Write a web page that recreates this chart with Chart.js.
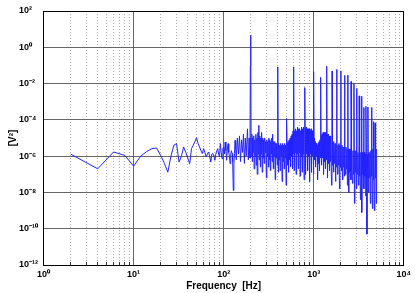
<!DOCTYPE html>
<html><head><meta charset="utf-8">
<script src="https://cdn.jsdelivr.net/npm/chart.js@4"></script>
<style>html,body{margin:0;padding:0;background:#fff}canvas{display:block}</style>
</head><body>
<canvas id="c" width="415" height="293"></canvas>
<script>
const freqHz = [
2,4,6,8,10,12,14,16,18,20,22,24,26,28,30,32,34,36,38,40,
42,44,46,48,50,52,54,56,58,60,62,64,66,68,70,72,74,76,78,80,
82,84,86,88,90,92,94,96,98,100,102,104,106,108,110,112,114,116,118,120,
122,124,126,128,130,132,134,
136,138,142,146,150,154,158,162,166,170,174,178,184,188,192,196,198,200,202,
206,208,210,214,216,218,222,224,228,230,234,236,240,242,246,248,252,256,258,262,264,268,272,276,278,282,286,290,294,298,302,306,310,314,318,322,326,330,334,338,342,346,350,356,360,364,370,374,378,384,388,394,398,400,
404,408,414,420,424,430,436,440,446,452,458,464,470,476,482,488,494,500,506,514,520,526,534,540,548,554,562,568,576,582,
590,598,600,606,614,622,630,638,646,654,662,672,680,688,698,
706,716,724,734,744,752,762,772,782,792,796,800,804,812,824,
834,844,856,866,878,888,900,912,924,934,946,958,972,984,996,1000,
1010,1022,1036,1048,1062,1076,1090,1104,1118,1132,1146,1160,1176,1190,1200,
1206,1222,1238,1254,1270,1286,1302,1318,1336,1352,1370,1388,1400,
1406,1424,1442,1460,1480,1498,1518,1536,1556,1576,1596,1600,
1616,1638,1658,1680,1702,1724,1746,1768,1790,1800,
1814,1836,1860,1884,1908,1932,1958,1982,2000,
2008,2034,2060,2086,2114,2140,2168,2196,2200,
2224,2252,2282,2310,2340,2370,2390,2400,2410,2430,2462,2494,2526,2558,2590,2600,
2610,2624,2658,2692,2728,2762,2796,2800,2834,2870,2906,2944,2982,3000,
3020,3058,3098,3138,3178,3200,3218,3260,3302,3342,3386,3400,3430,3474,3518,
3564,3600,3610,3656,3702,3750,3798,3800,3846,3896,3946,3996,4000,4048,
4100,4152,4204,4258,4314,4370,4400,4426,4482,4540,4598,4600,4656,4716,4778,4800,4840,4900,4964,5000
];
const psdV2 = [
1.3e-6,2.0e-7,1.7e-6,1.1e-6,2.8e-7,1.0e-6,1.8e-6,2.6e-6,2.8e-6,1.1e-6,4.0e-7,1.3e-7,1.0e-6,4.0e-6,4.9e-6,4.7e-7,1.0e-6,3.2e-6,1.6e-6,7.9e-7,
3.8e-7,2.6e-6,4.0e-6,6.3e-6,1.05e-5,5.0e-6,3.2e-6,2.0e-6,1.4e-6,2.6e-6,1.6e-6,8.9e-7,1.3e-6,1.7e-6,1.0e-6,4.7e-7,1.3e-6,1.4e-6,1.0e-6,5.9e-7,
1.3e-6,2.0e-6,2.6e-6,1.3e-6,8.9e-7,4.9e-6,1.6e-6,7.2e-7,2.5e-6,3.2e-6,1.3e-6,6.0e-6,2.0e-6,5.9e-7,2.5e-6,4.9e-6,1.6e-6,1.0e-6,3.8e-7,1.3e-6,
2.0e-6,1.4e-6,5.0e-7,1.3e-8,4.0e-7,1.4e-6,7.4e-6,
2.5e-6,6.3e-7,1.0e-5,1.3e-6,1.3e-5,5.0e-7,7.9e-6,1.6e-6,1.6e-5,4.0e-7,1.0e-5,1.0e-6,3.2e-5,6.3e-7,1.0e-5,7.9e-7,1.0e-1,4.7,1.0e-6,
1.6e-5,5.0e-7,1.0e-5,1.6e-6,1.3e-5,2.0e-7,7.9e-6,1.0e-6,1.6e-5,3.2e-7,1.0e-5,1.0e-7,2.0e-5,1.3e-6,5.0e-5,6.3e-7,1.3e-5,2.5e-7,1.0e-5,1.3e-6,2.0e-5,1.3e-7,1.0e-5,7.9e-7,7.9e-6,4.0e-7,1.0e-5,1.6e-6,6.3e-6,6.3e-8,7.9e-6,1.0e-6,6.3e-6,2.5e-7,1.0e-5,6.3e-7,7.9e-6,1.6e-7,6.3e-6,1.3e-6,1.0e-5,5.0e-7,1.6e-5,2.0e-7,6.3e-6,1.0e-6,6.3e-6,5.0e-8,5.0e-6,7.9e-7,5.0e-6,3.2e-7,5.0e-6,8.3e-2,
1.3e-7,5.0e-6,6.3e-7,4.0e-6,1.6e-7,5.0e-6,1.0e-6,4.0e-6,4.0e-8,5.0e-6,5.0e-7,4.0e-6,2.0e-7,5.0e-6,7.9e-7,4.0e-6,2.5e-8,1.2e-4,5.0e-6,3.2e-7,6.3e-6,1.3e-7,7.9e-6,6.3e-7,1.0e-5,2.5e-7,1.3e-5,1.0e-6,1.6e-5,2.0e-7,
2.5e-5,1.3e-6,8.3e-2,1.6e-7,2.5e-5,1.6e-6,3.2e-5,1.0e-7,2.5e-5,1.3e-6,4.0e-5,2.0e-7,3.2e-5,1.6e-6,3.2e-5,
7.9e-8,2.5e-5,1.0e-6,4.0e-5,1.3e-7,3.2e-5,1.3e-6,4.0e-5,5.0e-8,3.2e-5,1.6e-6,6.0e-3,3.2e-5,1.0e-7,4.0e-5,
1.3e-6,3.2e-5,1.6e-7,3.2e-5,1.0e-6,3.2e-5,4.0e-8,2.5e-5,1.3e-6,3.2e-5,1.3e-7,2.5e-5,1.0e-6,2.5e-5,1.0e-7,4.5e-2,
1.0e-5,6.3e-7,6.3e-6,2.5e-7,5.0e-6,1.0e-6,4.0e-6,5.0e-8,5.0e-6,4.0e-7,6.3e-6,1.6e-7,7.9e-6,7.9e-7,2.2e-2,
1.3e-5,3.2e-7,1.6e-5,7.9e-7,2.0e-5,1.0e-7,2.0e-5,5.0e-7,2.0e-5,2.0e-7,2.0e-5,6.3e-7,9.1e-2,
1.6e-5,6.3e-8,1.6e-5,4.0e-7,1.3e-5,1.6e-7,1.3e-5,5.0e-7,1.0e-5,2.5e-8,7.9e-6,4.9e-2,
3.2e-7,6.3e-6,1.3e-7,5.0e-6,4.0e-7,5.0e-6,4.0e-8,5.0e-6,2.5e-7,6.0e-2,
5.0e-6,1.0e-7,4.0e-6,3.2e-7,5.0e-6,1.6e-8,4.0e-6,2.5e-7,5.0e-2,
4.0e-6,1.6e-7,4.0e-6,5.0e-8,3.2e-6,2.5e-7,3.2e-6,7.9e-8,2.8e-2,
3.2e-6,1.0e-7,3.2e-6,2.0e-7,2.5e-6,2.5e-8,2.5e-6,2.9e-2,1.6e-7,2.5e-6,1.0e-8,2.5e-6,1.3e-7,2.5e-6,5.0e-8,1.3e-2,
2.5e-6,1.6e-7,2.0e-6,3.2e-8,2.0e-6,1.0e-7,2.0e-6,1.0e-2,2.5e-9,2.0e-6,1.3e-7,2.0e-6,1.6e-8,5.4e-3,
1.6e-6,1.0e-7,1.6e-6,2.5e-8,1.6e-6,2.1e-3,7.9e-8,1.6e-6,4.0e-9,1.6e-6,6.3e-8,2.0e-3,7.9e-10,1.6e-6,1.0e-7,
1.3e-6,4.8e-4,1.6e-8,1.6e-6,7.9e-8,1.3e-6,6.3e-9,5.6e-4,1.3e-6,5.0e-11,1.3e-6,6.3e-8,5.1e-4,1.0e-8,
1.6e-6,6.3e-8,1.6e-6,2.5e-9,2.0e-6,7.9e-8,4.8e-4,2.0e-6,1.3e-9,2.5e-6,5.0e-8,7.9e-5,2.5e-6,1.0e-9,3.2e-6,6.8e-5,6.3e-8,3.2e-6,2.5e-9,2.5e-6
];
const xMajorTicks = [1, 10, 100, 1000, 10000];
const xMajorLabels = ['10\u2070', '10\u00b9', '10\u00b2', '10\u00b3', '10\u2074'];
const xMinorTicks = [2,3,4,5,6,7,8,9,20,30,40,50,60,70,80,90,200,300,400,500,600,700,800,900,2000,3000,4000,5000,6000,7000,8000,9000];
const yTicks = [1e-12, 1e-10, 1e-8, 1e-6, 1e-4, 1e-2, 1, 100];
const yTickLabels = ['10\u207b\u00b9\u00b2','10\u207b\u00b9\u2070','10\u207b\u2078','10\u207b\u2076','10\u207b\u2074','10\u207b\u00b2','10\u2070','10\u00b2'];
const xTitle = 'Frequency  [Hz]';
const yTitle = '[V\u00b2]';

if (freqHz.length !== psdV2.length) throw new Error('length mismatch ' + freqHz.length + ' vs ' + psdV2.length);

const FONT = "'Liberation Sans', Arial, Helvetica, sans-serif";
const setTicks = arr => s => { s.ticks = arr.map(v => ({ value: v })); };
const blankAxis = (pos, w) => ({
  type: 'linear', position: pos, min: 0, max: 1, weight: 0,
  ticks: { display: false }, grid: { display: false, drawTicks: false },
  border: { display: true, color: '#000', width: 1 },
  afterFit: s => { if (pos === 'top' || pos === 'bottom') s.height = w; else s.width = w; }
});

new Chart(document.getElementById('c'), {
  type: 'line',
  data: { datasets: [{
    data: freqHz.map((f, i) => ({ x: f, y: psdV2[i] })),
    xAxisID: 'x', yAxisID: 'y',
    borderColor: 'rgb(35,35,255)', borderWidth: 1, pointRadius: 0, tension: 0, fill: false
  }]},
  options: {
    responsive: false, animation: false, devicePixelRatio: 1,
    layout: { padding: { left: 0, right: 9, top: 11, bottom: 0 } },
    plugins: { legend: { display: false }, tooltip: { enabled: false } },
    scales: {
      xm: {
        type: 'logarithmic', position: 'bottom', min: 1, max: 10000, weight: 0,
        afterBuildTicks: setTicks(xMinorTicks), afterFit: s => { s.height = 0; },
        ticks: { display: false },
        grid: { color: '#ababab', lineWidth: 1, drawTicks: true, tickLength: -3, tickColor: '#333', tickWidth: 1 },
        border: { display: false, dash: [1, 2] }
      },
      x: {
        type: 'logarithmic', position: 'bottom', min: 1, max: 10000, weight: 1,
        afterBuildTicks: setTicks(xMajorTicks), afterFit: s => { s.height = 28; },
        ticks: { autoSkip: false, maxRotation: 0, padding: 4, color: '#000',
          font: { family: FONT, size: 9, weight: 'bold' }, callback: (v, i) => xMajorLabels[i] },
        grid: { color: '#666', lineWidth: 1, drawTicks: false },
        border: { display: true, color: '#000', width: 1 },
        title: { display: true, text: xTitle, color: '#000',
          font: { family: FONT, size: 10, weight: 'bold' }, padding: { top: 0, bottom: 1 } }
      },
      y: {
        type: 'logarithmic', position: 'left', min: 1e-12, max: 1e2, weight: 0,
        afterBuildTicks: setTicks(yTicks), afterFit: s => { s.width = 24.5; },
        ticks: { autoSkip: false, crossAlign: 'far', color: '#000',
          font: { family: FONT, size: 9, weight: 'bold' }, callback: (v, i) => yTickLabels[i] },
        grid: { color: '#666', lineWidth: 1, drawTicks: false },
        border: { display: true, color: '#000', width: 1 }
      },
      yl: {
        type: 'linear', position: 'left', min: 0, max: 1, weight: 1,
        afterFit: s => { s.width = 19; },
        ticks: { display: false }, grid: { display: false, drawTicks: false },
        border: { display: false },
        title: { display: true, text: yTitle, color: '#000',
          font: { family: FONT, size: 10, weight: 'bold' }, padding: { top: 7, bottom: 0 } }
      },
      xt: blankAxis('top', 0),
      yr: blankAxis('right', 0)
    }
  }
});
</script>
</body></html>
